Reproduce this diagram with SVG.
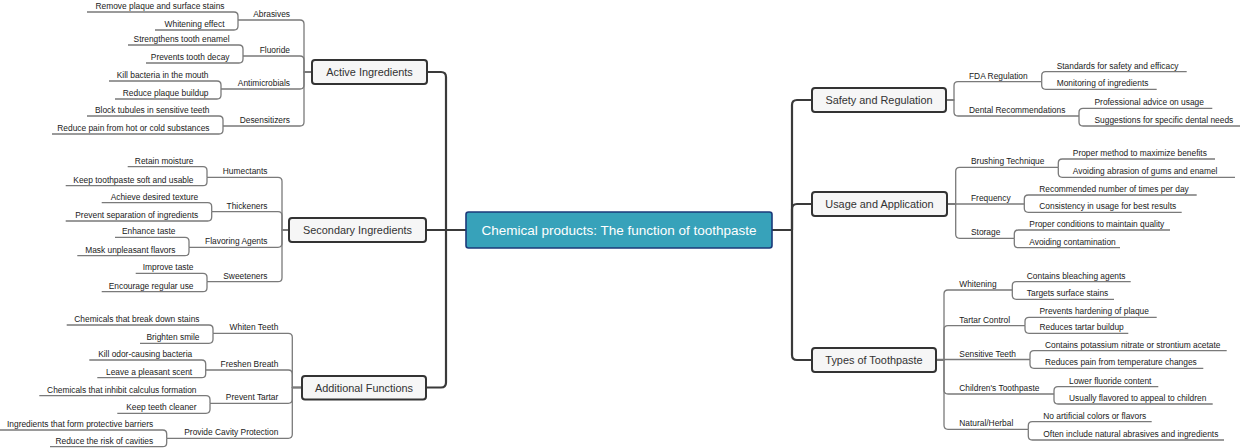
<svg xmlns="http://www.w3.org/2000/svg" width="1240" height="448" viewBox="0 0 1240 448">
<style>
.bg{fill:#ffffff}
.c1{fill:none;stroke:#3a3a3a;stroke-width:2.2;stroke-linecap:round;stroke-linejoin:round}
.c2{fill:none;stroke:#7a7a7a;stroke-width:1.3;stroke-linejoin:round}
.t{font-family:"Liberation Sans",Arial,Helvetica,sans-serif;font-size:8.4px;fill:#1a1a1a}
.l{text-anchor:end}
.m{font-family:"Liberation Sans",Arial,Helvetica,sans-serif;font-size:10.9px;fill:#333333;text-anchor:middle}
.mb{fill:#f6f6f6;stroke:#333333;stroke-width:2}
.root{fill:#37a2ba;stroke:#1b3a7a;stroke-width:1.6}
.rt{font-family:"Liberation Sans",Arial,Helvetica,sans-serif;font-size:13.5px;fill:#ffffff;text-anchor:middle}
</style>
<rect class="bg" x="0" y="0" width="1240" height="448"/>
<g id="connectors">
<!-- main trunk -->
<path class="c1" d="M466,230 H446 V77 Q446,72 441,72 H427"/>
<path class="c1" d="M466,230 H426"/>
<path class="c1" d="M466,230 H446 V382.5 Q446,387.5 441,387.5 H426"/>
<path class="c1" d="M772,230 H792 V105 Q792,100 797,100 H812"/>
<path class="c1" d="M772,230 H792 V209 Q792,204 797,204 H812"/>
<path class="c1" d="M772,230 H792 V355 Q792,360 797,360 H812"/>
<!-- Active -->
<path class="c2" d="M312,72 H304 V24 Q304,20 300,20 H238"/>
<path class="c2" d="M312,72 H304 V60 Q304,56 300,56 H243"/>
<path class="c2" d="M312,72 H304 V85 Q304,89 300,89 H221"/>
<path class="c2" d="M312,72 H304 V122 Q304,126 300,126 H223"/>
<path class="c2" d="M238,20 V16 Q238,12 234,12 H87"/>
<path class="c2" d="M238,20 V26 Q238,30 234,30 H155"/>
<path class="c2" d="M243,56 V49 Q243,45 239,45 H128"/>
<path class="c2" d="M243,56 V59 Q243,63 239,63 H146"/>
<path class="c2" d="M221,89 V85 Q221,81 217,81 H109"/>
<path class="c2" d="M221,89 V95 Q221,99 217,99 H115"/>
<path class="c2" d="M223,126 V120 Q223,116 219,116 H87"/>
<path class="c2" d="M223,126 V130 Q223,134 219,134 H52"/>
<!-- Secondary -->
<path class="c2" d="M289,230 H282 V181.3 Q282,177.3 278,177.3 H207"/>
<path class="c2" d="M289,230 H282 V215.7 Q282,211.7 278,211.7 H211.7"/>
<path class="c2" d="M289,230 H282 V243.3 Q282,247.3 278,247.3 H189"/>
<path class="c2" d="M289,230 H282 V277.7 Q282,281.7 278,281.7 H207"/>
<path class="c2" d="M207,177.3 V170.7 Q207,166.7 203,166.7 H127.7"/>
<path class="c2" d="M207,177.3 V181.7 Q207,185.7 203,185.7 H65.7"/>
<path class="c2" d="M211.7,211.7 V206.7 Q211.7,202.7 207.7,202.7 H101.7"/>
<path class="c2" d="M211.7,211.7 V217 Q211.7,221 207.7,221 H65.7"/>
<path class="c2" d="M189,247.3 V241.3 Q189,237.3 185,237.3 H115"/>
<path class="c2" d="M189,247.3 V251.7 Q189,255.7 185,255.7 H77.3"/>
<path class="c2" d="M207,281.7 V277.3 Q207,273.3 203,273.3 H135.7"/>
<path class="c2" d="M207,281.7 V287.7 Q207,291.7 203,291.7 H101.7"/>
<!-- Additional -->
<path class="c2" d="M302,387.5 H292.3 V337.3 Q292.3,333.3 288.3,333.3 H213"/>
<path class="c2" d="M302,387.5 H292.3 V374 Q292.3,370 288.3,370 H205.7"/>
<path class="c2" d="M302,387.5 H292.3 V399.3 Q292.3,403.3 288.3,403.3 H210"/>
<path class="c2" d="M302,387.5 H292.3 V434.3 Q292.3,438.3 288.3,438.3 H166.7"/>
<path class="c2" d="M213,333.3 V329 Q213,325 209,325 H66.7"/>
<path class="c2" d="M213,333.3 V339.3 Q213,343.3 209,343.3 H140"/>
<path class="c2" d="M205.7,370 V364 Q205.7,360 201.7,360 H89.3"/>
<path class="c2" d="M205.7,370 V373.7 Q205.7,377.7 201.7,377.7 H97.3"/>
<path class="c2" d="M210,403.3 V399.7 Q210,395.7 206,395.7 H39.3"/>
<path class="c2" d="M210,403.3 V409.3 Q210,413.3 206,413.3 H117.3"/>
<path class="c2" d="M166.7,438.3 V434 Q166.7,430 162.7,430 H0"/>
<path class="c2" d="M166.7,438.3 V442.7 Q166.7,446.7 162.7,446.7 H50"/>
<!-- Safety -->
<path class="c2" d="M946,100 H954 V85.7 Q954,81.7 958,81.7 H1041.7"/>
<path class="c2" d="M946,100 H954 V112 Q954,116 958,116 H1079"/>
<path class="c2" d="M1041.7,81.7 V75.7 Q1041.7,71.7 1045.7,71.7 H1186.7"/>
<path class="c2" d="M1041.7,81.7 V85.3 Q1041.7,89.3 1045.7,89.3 H1156.7"/>
<path class="c2" d="M1079,116 V112.3 Q1079,108.3 1083,108.3 H1212.3"/>
<path class="c2" d="M1079,116 V122 Q1079,126 1083,126 H1240"/>
<!-- Usage -->
<path class="c2" d="M947,204 H955.7 V171.3 Q955.7,167.3 959.7,167.3 H1058.3"/>
<path class="c2" d="M947,204 H1024.3"/>
<path class="c2" d="M947,204 H955.7 V234.3 Q955.7,238.3 959.7,238.3 H1014.3"/>
<path class="c2" d="M1058.3,167.3 V163 Q1058.3,159 1062.3,159 H1215"/>
<path class="c2" d="M1058.3,167.3 V173.3 Q1058.3,177.3 1062.3,177.3 H1235"/>
<path class="c2" d="M1024.3,204 V199 Q1024.3,195 1028.3,195 H1196.7"/>
<path class="c2" d="M1024.3,204 V208.3 Q1024.3,212.3 1028.3,212.3 H1181.7"/>
<path class="c2" d="M1014.3,238.3 V234 Q1014.3,230 1018.3,230 H1170"/>
<path class="c2" d="M1014.3,238.3 V243.7 Q1014.3,247.7 1018.3,247.7 H1120"/>
<!-- Types -->
<path class="c2" d="M936,360 H944 V294 Q944,290 948,290 H1012.3"/>
<path class="c2" d="M936,360 H944 V329.7 Q944,325.7 948,325.7 H1025"/>
<path class="c2" d="M936,359.5 H1030"/>
<path class="c2" d="M936,360 H944 V390 Q944,394 948,394 H1054"/>
<path class="c2" d="M936,360 H944 V425.3 Q944,429.3 948,429.3 H1028.3"/>
<path class="c2" d="M1012.3,290 V285.7 Q1012.3,281.7 1016.3,281.7 H1130.7"/>
<path class="c2" d="M1012.3,290 V295.3 Q1012.3,299.3 1016.3,299.3 H1114"/>
<path class="c2" d="M1025,325.7 V321.3 Q1025,317.3 1029,317.3 H1156.7"/>
<path class="c2" d="M1025,325.7 V329.3 Q1025,333.3 1029,333.3 H1128.3"/>
<path class="c2" d="M1030,359.5 V354.7 Q1030,350.7 1034,350.7 H1226.7"/>
<path class="c2" d="M1030,359.5 V364.3 Q1030,368.3 1034,368.3 H1203.3"/>
<path class="c2" d="M1054,394 V390.7 Q1054,386.7 1058,386.7 H1158.3"/>
<path class="c2" d="M1054,394 V400 Q1054,404 1058,404 H1212.7"/>
<path class="c2" d="M1028.3,429.3 V425.7 Q1028.3,421.7 1032.3,421.7 H1151.7"/>
<path class="c2" d="M1028.3,429.3 V436 Q1028.3,440 1032.3,440 H1224"/>
</g>

<g id="root">
<rect class="root" x="466" y="212" width="306" height="36" rx="2.5"/>
<text class="rt" x="619" y="234.8">Chemical products: The function of toothpaste</text>
</g>

<g id="active-ingredients">
<rect class="mb" x="312" y="60" width="115" height="24" rx="3"/>
<text class="m" x="369.5" y="76">Active Ingredients</text>
</g>
<g id="abrasives"><text class="t l" x="290" y="17">Abrasives</text></g>
<g id="abrasives-1"><text class="t l" x="224.5" y="9">Remove plaque and surface stains</text></g>
<g id="abrasives-2"><text class="t l" x="224.5" y="27">Whitening effect</text></g>
<g id="fluoride"><text class="t l" x="290" y="53">Fluoride</text></g>
<g id="fluoride-1"><text class="t l" x="229.5" y="42">Strengthens tooth enamel</text></g>
<g id="fluoride-2"><text class="t l" x="229.5" y="60">Prevents tooth decay</text></g>
<g id="antimicrobials"><text class="t l" x="290" y="86">Antimicrobials</text></g>
<g id="antimicrobials-1"><text class="t l" x="208.5" y="78">Kill bacteria in the mouth</text></g>
<g id="antimicrobials-2"><text class="t l" x="208.5" y="96">Reduce plaque buildup</text></g>
<g id="desensitizers"><text class="t l" x="290" y="123">Desensitizers</text></g>
<g id="desensitizers-1"><text class="t l" x="209.5" y="113">Block tubules in sensitive teeth</text></g>
<g id="desensitizers-2"><text class="t l" x="209.5" y="131">Reduce pain from hot or cold substances</text></g>

<g id="secondary-ingredients">
<rect class="mb" x="289" y="218" width="137" height="24" rx="3"/>
<text class="m" x="357.5" y="234">Secondary Ingredients</text>
</g>
<g id="humectants"><text class="t l" x="267.5" y="174.3">Humectants</text></g>
<g id="humectants-1"><text class="t l" x="193.5" y="163.7">Retain moisture</text></g>
<g id="humectants-2"><text class="t l" x="193.5" y="182.7">Keep toothpaste soft and usable</text></g>
<g id="thickeners"><text class="t l" x="267.5" y="208.7">Thickeners</text></g>
<g id="thickeners-1"><text class="t l" x="198.2" y="199.7">Achieve desired texture</text></g>
<g id="thickeners-2"><text class="t l" x="198.2" y="218">Prevent separation of ingredients</text></g>
<g id="flavoring-agents"><text class="t l" x="267.5" y="244.3">Flavoring Agents</text></g>
<g id="flavoring-agents-1"><text class="t l" x="175.5" y="234.3">Enhance taste</text></g>
<g id="flavoring-agents-2"><text class="t l" x="175.5" y="252.7">Mask unpleasant flavors</text></g>
<g id="sweeteners"><text class="t l" x="267.5" y="278.7">Sweeteners</text></g>
<g id="sweeteners-1"><text class="t l" x="193.5" y="270.3">Improve taste</text></g>
<g id="sweeteners-2"><text class="t l" x="193.5" y="288.7">Encourage regular use</text></g>

<g id="additional-functions">
<rect class="mb" x="302" y="376" width="124" height="23.5" rx="3"/>
<text class="m" x="364" y="391.5">Additional Functions</text>
</g>
<g id="whiten-teeth"><text class="t l" x="278.3" y="330.3">Whiten Teeth</text></g>
<g id="whiten-teeth-1"><text class="t l" x="199.5" y="322">Chemicals that break down stains</text></g>
<g id="whiten-teeth-2"><text class="t l" x="199.5" y="340.3">Brighten smile</text></g>
<g id="freshen-breath"><text class="t l" x="278.3" y="367">Freshen Breath</text></g>
<g id="freshen-breath-1"><text class="t l" x="192.2" y="357">Kill odor-causing bacteria</text></g>
<g id="freshen-breath-2"><text class="t l" x="192.2" y="374.7">Leave a pleasant scent</text></g>
<g id="prevent-tartar"><text class="t l" x="278.3" y="400.3">Prevent Tartar</text></g>
<g id="prevent-tartar-1"><text class="t l" x="196.5" y="392.7">Chemicals that inhibit calculus formation</text></g>
<g id="prevent-tartar-2"><text class="t l" x="196.5" y="410.3">Keep teeth cleaner</text></g>
<g id="provide-cavity-protection"><text class="t l" x="278.3" y="435.3">Provide Cavity Protection</text></g>
<g id="provide-cavity-protection-1"><text class="t l" x="153.2" y="427">Ingredients that form protective barriers</text></g>
<g id="provide-cavity-protection-2"><text class="t l" x="153.2" y="443.7">Reduce the risk of cavities</text></g>

<g id="safety-and-regulation">
<rect class="mb" x="812" y="88" width="134" height="24" rx="3"/>
<text class="m" x="879" y="104">Safety and Regulation</text>
</g>
<g id="fda-regulation"><text class="t" x="969" y="78.7">FDA Regulation</text></g>
<g id="fda-regulation-1"><text class="t" x="1056.7" y="68.7">Standards for safety and efficacy</text></g>
<g id="fda-regulation-2"><text class="t" x="1056.7" y="86.3">Monitoring of ingredients</text></g>
<g id="dental-recommendations"><text class="t" x="969" y="113">Dental Recommendations</text></g>
<g id="dental-recommendations-1"><text class="t" x="1094.5" y="105.3">Professional advice on usage</text></g>
<g id="dental-recommendations-2"><text class="t" x="1094.5" y="123">Suggestions for specific dental needs</text></g>

<g id="usage-and-application">
<rect class="mb" x="812" y="192" width="135" height="24" rx="3"/>
<text class="m" x="879.5" y="208">Usage and Application</text>
</g>
<g id="brushing-technique"><text class="t" x="971" y="164.3">Brushing Technique</text></g>
<g id="brushing-technique-1"><text class="t" x="1072.8" y="156">Proper method to maximize benefits</text></g>
<g id="brushing-technique-2"><text class="t" x="1072.8" y="174.3">Avoiding abrasion of gums and enamel</text></g>
<g id="frequency"><text class="t" x="971" y="201">Frequency</text></g>
<g id="frequency-1"><text class="t" x="1039.3" y="192">Recommended number of times per day</text></g>
<g id="frequency-2"><text class="t" x="1039.3" y="209.3">Consistency in usage for best results</text></g>
<g id="storage"><text class="t" x="971" y="235.3">Storage</text></g>
<g id="storage-1"><text class="t" x="1029.3" y="227">Proper conditions to maintain quality</text></g>
<g id="storage-2"><text class="t" x="1029.3" y="244.7">Avoiding contamination</text></g>

<g id="types-of-toothpaste">
<rect class="mb" x="812" y="348" width="124" height="24" rx="3"/>
<text class="m" x="874" y="364">Types of Toothpaste</text>
</g>
<g id="whitening"><text class="t" x="959.3" y="287">Whitening</text></g>
<g id="whitening-1"><text class="t" x="1026.8" y="278.7">Contains bleaching agents</text></g>
<g id="whitening-2"><text class="t" x="1026.8" y="296.3">Targets surface stains</text></g>
<g id="tartar-control"><text class="t" x="959.3" y="322.7">Tartar Control</text></g>
<g id="tartar-control-1"><text class="t" x="1039.5" y="314.3">Prevents hardening of plaque</text></g>
<g id="tartar-control-2"><text class="t" x="1039.5" y="330.3">Reduces tartar buildup</text></g>
<g id="sensitive-teeth"><text class="t" x="959.3" y="356.5">Sensitive Teeth</text></g>
<g id="sensitive-teeth-1"><text class="t" x="1045" y="347.7">Contains potassium nitrate or strontium acetate</text></g>
<g id="sensitive-teeth-2"><text class="t" x="1045" y="365.3">Reduces pain from temperature changes</text></g>
<g id="childrens-toothpaste"><text class="t" x="959.3" y="391">Children's Toothpaste</text></g>
<g id="childrens-toothpaste-1"><text class="t" x="1069" y="383.7">Lower fluoride content</text></g>
<g id="childrens-toothpaste-2"><text class="t" x="1069" y="401">Usually flavored to appeal to children</text></g>
<g id="natural-herbal"><text class="t" x="959.3" y="426.3">Natural/Herbal</text></g>
<g id="natural-herbal-1"><text class="t" x="1043.3" y="418.7">No artificial colors or flavors</text></g>
<g id="natural-herbal-2"><text class="t" x="1043.3" y="437">Often include natural abrasives and ingredients</text></g>
</svg>
